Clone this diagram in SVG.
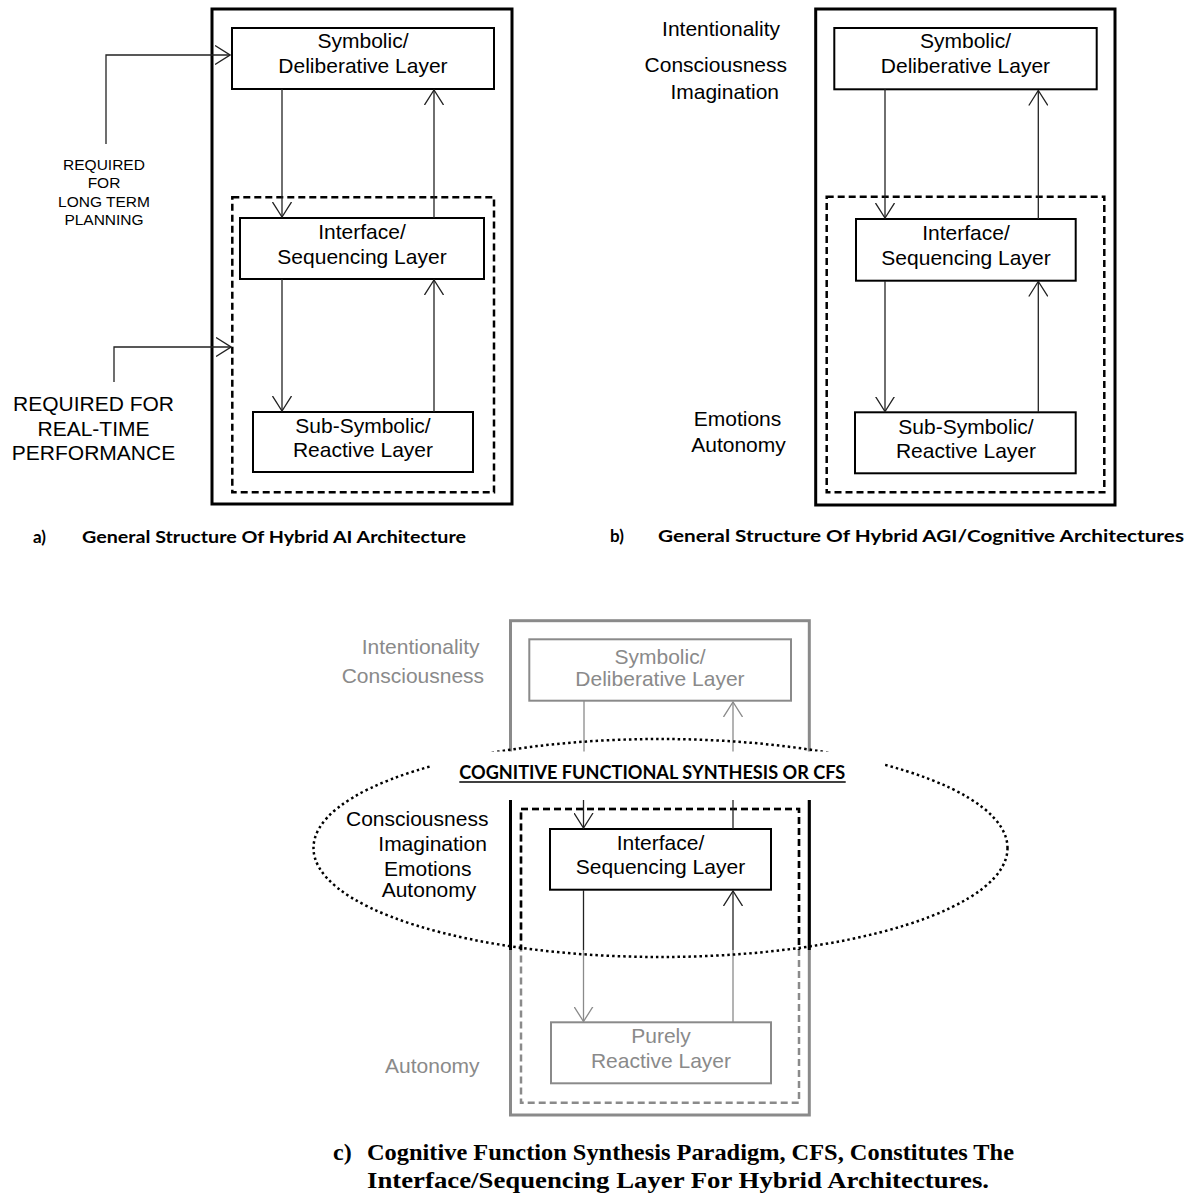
<svg xmlns="http://www.w3.org/2000/svg" width="1190" height="1195" viewBox="0 0 1190 1195">
<defs>
<style>
.lay{font-family:"Liberation Sans",Arial,sans-serif;font-size:21px;fill:#000;text-anchor:middle}
.side{font-family:"Liberation Sans",Arial,sans-serif;font-size:21px;fill:#000}
.g{fill:#8a8a8a}
.node{fill:#fff;stroke:#000;stroke-width:2}
.gnode{fill:#fff;stroke:#8a8a8a;stroke-width:2}
.outer{fill:none;stroke:#000;stroke-width:3}
.dash{fill:none;stroke:#000;stroke-width:2.5;stroke-dasharray:7 4}
.ln{fill:none;stroke:#222;stroke-width:1.3}
.gln{fill:none;stroke:#8a8a8a;stroke-width:1.3}
.cap{font-family:Lato,"Open Sans",sans-serif;font-weight:700;font-size:17px;fill:#000}
.capc{font-family:"Liberation Serif","Times New Roman",serif;font-weight:700;font-size:24px;fill:#000}
</style>
<marker id="ah" viewBox="0 0 16 20" refX="15" refY="10" markerWidth="16" markerHeight="20" markerUnits="userSpaceOnUse" orient="auto">
<path d="M0,0.5 L15,10 L0,19.5" fill="none" stroke="#222" stroke-width="1.3"/>
</marker>
<marker id="ahg" viewBox="0 0 16 20" refX="15" refY="10" markerWidth="16" markerHeight="20" markerUnits="userSpaceOnUse" orient="auto">
<path d="M0,0.5 L15,10 L0,19.5" fill="none" stroke="#8a8a8a" stroke-width="1.3"/>
</marker>
<clipPath id="upper"><rect x="0" y="795" width="1190" height="155"/></clipPath>
</defs>
<rect width="1190" height="1195" fill="#fff"/>

<!-- Panel a -->
<g id="a-frame">
<rect class="outer" x="212" y="9" width="300" height="495"/>
<rect class="dash" x="232.3" y="197.3" width="261.7" height="295"/>
</g>
<g id="a-symbolic">
<rect class="node" x="232" y="28" width="262" height="61"/>
<text class="lay" x="363" y="48">Symbolic/</text>
<text class="lay" x="363" y="73">Deliberative Layer</text>
</g>
<g id="a-interface">
<rect class="node" x="240" y="218" width="244" height="61"/>
<text class="lay" x="362" y="239">Interface/</text>
<text class="lay" x="362" y="264">Sequencing Layer</text>
</g>
<g id="a-reactive">
<rect class="node" x="253" y="412" width="220" height="60"/>
<text class="lay" x="363" y="433">Sub-Symbolic/</text>
<text class="lay" x="363" y="457">Reactive Layer</text>
</g>
<g id="a-label-planning" font-family="Liberation Sans, Arial, sans-serif" font-size="15.5" text-anchor="middle">
<text x="104" y="170">REQUIRED</text>
<text x="104" y="188">FOR</text>
<text x="104" y="207">LONG TERM</text>
<text x="104" y="225">PLANNING</text>
</g>
<g id="a-label-realtime" font-family="Liberation Sans, Arial, sans-serif" font-size="21" text-anchor="middle">
<text x="93.5" y="411">REQUIRED FOR</text>
<text x="93.5" y="436">REAL-TIME</text>
<text x="93.5" y="460">PERFORMANCE</text>
</g>
<text class="cap" x="33" y="543">a)</text>
<text class="cap" x="82" y="543" textLength="384" lengthAdjust="spacingAndGlyphs">General Structure Of Hybrid AI Architecture</text>

<!-- Panel b -->
<g id="b-frame">
<rect class="outer" x="815.7" y="9" width="299.3" height="496"/>
<rect class="dash" x="826.7" y="196.7" width="277.6" height="295.6"/>
</g>
<g id="b-symbolic">
<rect class="node" x="834.3" y="28" width="262.4" height="61.3"/>
<text class="lay" x="965.5" y="48">Symbolic/</text>
<text class="lay" x="965.5" y="73.3">Deliberative Layer</text>
</g>
<g id="b-interface">
<rect class="node" x="856" y="219" width="219.7" height="61.7"/>
<text class="lay" x="966" y="240">Interface/</text>
<text class="lay" x="966" y="265">Sequencing Layer</text>
</g>
<g id="b-reactive">
<rect class="node" x="855" y="412.3" width="220.7" height="61"/>
<text class="lay" x="966" y="434.3">Sub-Symbolic/</text>
<text class="lay" x="966" y="458.3">Reactive Layer</text>
</g>
<g id="b-labels" class="side" text-anchor="end">
<text x="780" y="36">Intentionality</text>
<text x="787" y="72">Consciousness</text>
<text x="779" y="99">Imagination</text>
</g>
<g id="b-labels-low" class="side" text-anchor="middle">
<text x="737.5" y="425.7">Emotions</text>
<text x="738.5" y="451.7">Autonomy</text>
</g>
<text class="cap" x="610" y="542">b)</text>
<text class="cap" x="658" y="542" textLength="526" lengthAdjust="spacingAndGlyphs">General Structure Of Hybrid AGI/Cognitive Architectures</text>

<!-- Panel c -->
<g id="c-frame">
<rect x="510.5" y="620.7" width="298.8" height="494.3" fill="none" stroke="#8a8a8a" stroke-width="3"/>
<rect x="521" y="809" width="278" height="293.7" fill="none" stroke="#8a8a8a" stroke-width="2.5" stroke-dasharray="7 4"/>
</g>
<g id="c-symbolic">
<rect class="gnode" x="529.3" y="639.3" width="261.7" height="61.4"/>
<text class="lay g" x="660" y="663.5">Symbolic/</text>
<text class="lay g" x="660" y="686">Deliberative Layer</text>
</g>
<g id="c-reactive">
<rect class="gnode" x="551" y="1022.3" width="220" height="61"/>
<text class="lay g" x="661" y="1043.3">Purely</text>
<text class="lay g" x="661" y="1068.3">Reactive Layer</text>
</g>
<g id="c-labels-gray" class="side g">
<text x="361.7" y="654">Intentionality</text>
<text x="341.7" y="683">Consciousness</text>
<text x="385" y="1072.7">Autonomy</text>
</g>

<g id="connectors">
<!-- panel a -->
<polyline class="ln" points="106,144 106,55 230,55" marker-end="url(#ah)" stroke-width="1.5"/>
<polyline class="ln" points="114,382 114,347 231,347" marker-end="url(#ah)" stroke-width="1.5"/>
<line class="ln" x1="282" y1="89" x2="282" y2="217" marker-end="url(#ah)"/>
<line class="ln" x1="434" y1="218" x2="434" y2="90" marker-end="url(#ah)"/>
<line class="ln" x1="282" y1="279" x2="282" y2="411" marker-end="url(#ah)"/>
<line class="ln" x1="434" y1="412" x2="434" y2="280" marker-end="url(#ah)"/>
<!-- panel b -->
<line class="ln" x1="885" y1="89" x2="885" y2="218" marker-end="url(#ah)"/>
<line class="ln" x1="1038.3" y1="219" x2="1038.3" y2="90.5" marker-end="url(#ah)"/>
<line class="ln" x1="885" y1="281" x2="885" y2="411.5" marker-end="url(#ah)"/>
<line class="ln" x1="1038.3" y1="412" x2="1038.3" y2="281.5" marker-end="url(#ah)"/>
<!-- panel c gray parts -->
<line class="gln" x1="584" y1="701" x2="584" y2="752"/>
<line class="gln" x1="733" y1="752" x2="733" y2="702" marker-end="url(#ahg)"/>
<line class="gln" x1="583.5" y1="950" x2="583.5" y2="1021.5" marker-end="url(#ahg)"/>
<line class="gln" x1="733" y1="1022" x2="733" y2="950"/>
</g>

<g id="cfs-ellipse">
<ellipse cx="660.5" cy="848" rx="347" ry="109" fill="none" stroke="#000" stroke-width="2.5" stroke-dasharray="2.5 3"/>
<rect x="430" y="751.5" width="455" height="48.5" fill="#fff"/>
<text x="459.3" y="779" font-family="Lato, 'Open Sans', sans-serif" font-weight="700" font-size="18" textLength="386" lengthAdjust="spacingAndGlyphs">COGNITIVE FUNCTIONAL SYNTHESIS OR CFS</text>
<line x1="459.3" y1="782" x2="845.7" y2="782" stroke="#000" stroke-width="1.5"/>
</g>

<g id="c-frame-black">
<line x1="510.5" y1="800" x2="510.5" y2="950" stroke="#000" stroke-width="3"/>
<line x1="809.3" y1="800" x2="809.3" y2="950" stroke="#000" stroke-width="3"/>
<rect x="521" y="809" width="278" height="293.7" fill="none" stroke="#000" stroke-width="2.5" stroke-dasharray="7 4" clip-path="url(#upper)"/>
</g>
<g id="c-interface">
<rect class="node" x="550" y="829" width="221" height="60.7"/>
<text class="lay" x="660.5" y="850">Interface/</text>
<text class="lay" x="660.5" y="874">Sequencing Layer</text>
</g>
<g id="c-labels" class="side">
<text x="346" y="825.7">Consciousness</text>
<text x="378.3" y="850.7">Imagination</text>
<text x="384" y="876">Emotions</text>
<text x="381.7" y="896.7">Autonomy</text>
</g>
<g id="connectors-c-black">
<line class="ln" x1="583.5" y1="800" x2="583.5" y2="828" marker-end="url(#ah)"/>
<line class="ln" x1="733" y1="829" x2="733" y2="800"/>
<line class="ln" x1="583.5" y1="890" x2="583.5" y2="950"/>
<line class="ln" x1="733" y1="950" x2="733" y2="891" marker-end="url(#ah)"/>
</g>

<g id="caption-c">
<text class="capc" x="333" y="1160">c)</text>
<text class="capc" x="367" y="1160" textLength="647" lengthAdjust="spacingAndGlyphs">Cognitive Function Synthesis Paradigm, CFS, Constitutes The</text>
<text class="capc" x="367" y="1188" textLength="622" lengthAdjust="spacingAndGlyphs">Interface/Sequencing Layer For Hybrid Architectures.</text>
</g>
</svg>
